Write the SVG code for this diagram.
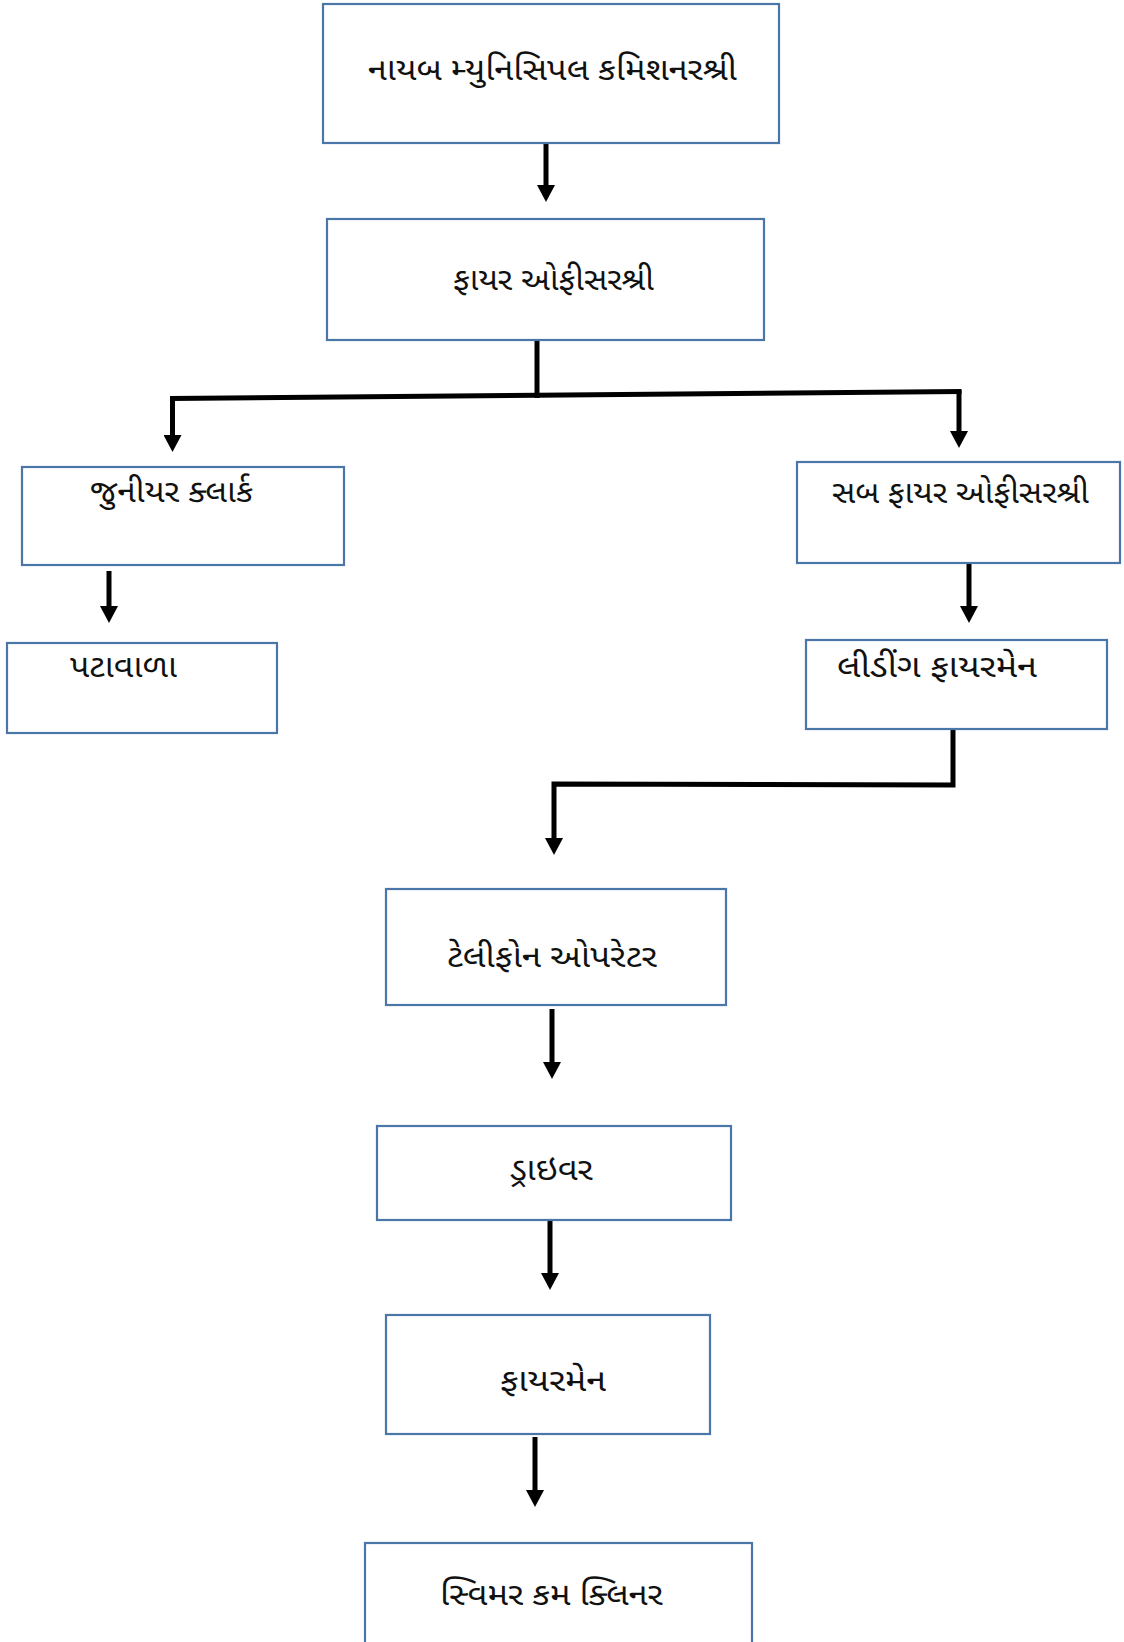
<svg xmlns="http://www.w3.org/2000/svg" width="1124" height="1642" viewBox="0 0 1124 1642">
<defs>
<marker id="ah" viewBox="0 0 17 18" refX="0" refY="9" markerWidth="17" markerHeight="18" markerUnits="userSpaceOnUse" orient="auto">
<path d="M0,0 L17,9 L0,18 Z" fill="#000"/>
</marker>
<style>
.box{fill:#fff;stroke:#4a76a8;stroke-width:2.2}
.t{font-family:"Noto Sans Gujarati","Lohit Gujarati","Noto Sans","DejaVu Sans",sans-serif;font-size:32px;fill:#111}
.c{fill:none;stroke:#000;stroke-width:5}
.a{fill:none;stroke:#000;stroke-width:5;marker-end:url(#ah)}
</style>
</defs>
<rect width="1124" height="1642" fill="#fff"/>
<g id="connectors">
<path class="a" d="M546,143 V185"/>
<path class="c" d="M537,340 V398"/>
<path class="c" d="M170,398.5 L961.5,391.5"/>
<path class="a" d="M172.5,396 V435"/>
<path class="a" d="M959,390 V431"/>
<path class="a" d="M109,571 V606"/>
<path class="a" d="M969,563 V606"/>
<path class="a" d="M953,729 V785 L554,784 V838"/>
<path class="a" d="M552,1009 V1062"/>
<path class="a" d="M550,1220 V1273"/>
<path class="a" d="M535,1437 V1490"/>
</g>
<g id="n1"><rect class="box" x="323" y="4" width="456" height="139"/><text class="t" x="368" y="80" textLength="369" lengthAdjust="spacingAndGlyphs">નાયબ મ્યુનિસિપલ કમિશનરશ્રી</text></g>
<g id="n2"><rect class="box" x="327" y="219" width="437" height="121"/><text class="t" x="453" y="290" textLength="201" lengthAdjust="spacingAndGlyphs">ફાયર ઓફીસરશ્રી</text></g>
<g id="n3"><rect class="box" x="22" y="467" width="322" height="98"/><text class="t" x="90" y="502" textLength="163" lengthAdjust="spacingAndGlyphs">જુનીયર ક્લાર્ક</text></g>
<g id="n4"><rect class="box" x="7" y="643" width="270" height="90"/><text class="t" x="70" y="677" textLength="107" lengthAdjust="spacingAndGlyphs">પટાવાળા</text></g>
<g id="n5"><rect class="box" x="797" y="462" width="323" height="101"/><text class="t" x="832" y="503" textLength="257" lengthAdjust="spacingAndGlyphs">સબ ફાયર ઓફીસરશ્રી</text></g>
<g id="n6"><rect class="box" x="806" y="640" width="301" height="89"/><text class="t" x="837" y="677" textLength="200" lengthAdjust="spacingAndGlyphs">લીડીંગ ફાયરમેન</text></g>
<g id="n7"><rect class="box" x="386" y="889" width="340" height="116"/><text class="t" x="447" y="967" textLength="210" lengthAdjust="spacingAndGlyphs">ટેલીફોન ઓપરેટર</text></g>
<g id="n8"><rect class="box" x="377" y="1126" width="354" height="94"/><text class="t" x="510" y="1180" textLength="83" lengthAdjust="spacingAndGlyphs">ડ્રાઇવર</text></g>
<g id="n9"><rect class="box" x="386" y="1315" width="324" height="119"/><text class="t" x="500" y="1391" textLength="106" lengthAdjust="spacingAndGlyphs">ફાયરમેન</text></g>
<g id="n10"><rect class="box" x="365" y="1543" width="387" height="120"/><text class="t" x="440" y="1605" textLength="223" lengthAdjust="spacingAndGlyphs">સ્વિમર કમ ક્લિનર</text></g>
</svg>
